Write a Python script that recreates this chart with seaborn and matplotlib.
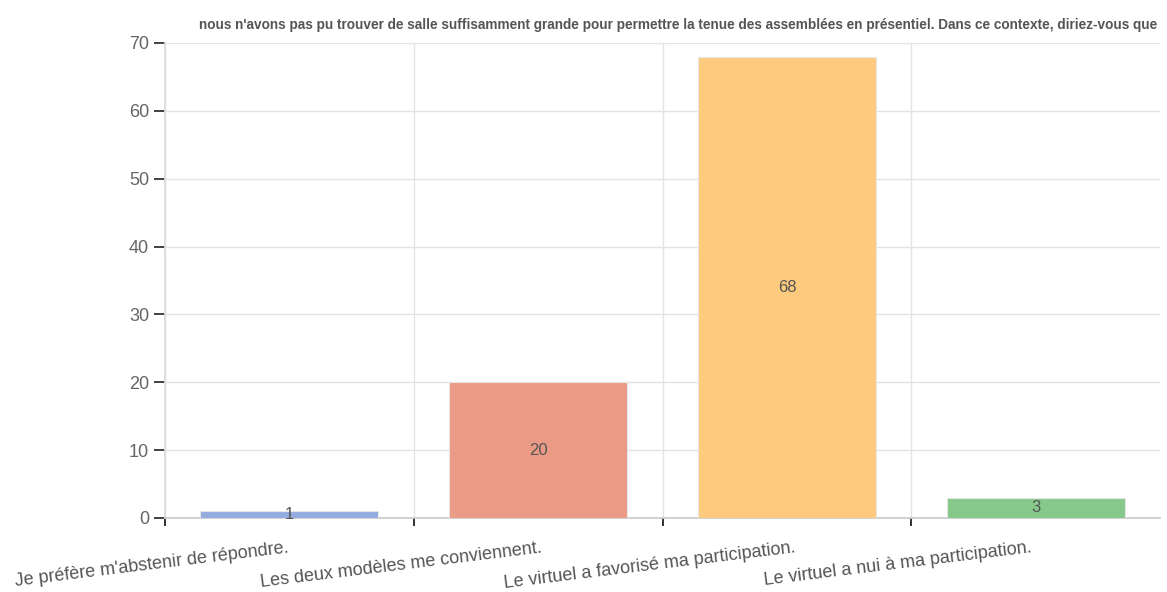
import matplotlib
matplotlib.use("Agg")
import matplotlib.pyplot as plt
import matplotlib.transforms as mtransforms
import seaborn as sns
import pandas as pd

categories = ["Je préfère m'abstenir de répondre.",
              "Les deux modèles me conviennent.",
              "Le virtuel a favorisé ma participation.",
              "Le virtuel a nui à ma participation."]
values = [1, 20, 68, 3]
colors = ["#94abe0", "#eb9a85", "#fdca7e", "#86c98a"]
title = ("nous n'avons pas pu trouver de salle suffisamment grande pour permettre la tenue "
         "des assemblées en présentiel. Dans ce contexte, diriez-vous que")
yticks = [0, 10, 20, 30, 40, 50, 60, 70]

sns.set_theme(style="white")
plt.rcParams['font.family'] = ['Liberation Sans', 'DejaVu Sans']

df = pd.DataFrame({"cat": categories, "val": values})

fig = plt.figure(figsize=(11.67, 5.92), dpi=100)
ax = fig.add_axes([0.1414, 0.125, 0.8526, 0.8024])

sns.barplot(data=df, x="cat", y="val", hue="cat", palette=colors, legend=False,
            width=0.715, ax=ax, saturation=1, edgecolor="#e6e6e6", linewidth=0.8, zorder=3)

for i, v in enumerate(values):
    ax.text(i, v / 2, str(v), ha="center", va="center", fontsize=12, color="#555555", zorder=4)

ax.set_xlim(-0.5, 3.5)
ax.set_ylim(0, 70)
ax.set_yticks(yticks)
ax.set_yticklabels([str(t) for t in yticks], color="#666666", fontsize=13)
ax.set_xticks([-0.5, 0.5, 1.5, 2.5])
ax.set_xticklabels(categories, rotation=7, ha="center", color="#555555", fontsize=13)
ax.tick_params(axis="y", length=8, width=1.3, color="#333333", pad=3.5, left=True)
ax.tick_params(axis="x", length=6, width=1.3, color="#222222", pad=9.5, bottom=True)
offset = mtransforms.ScaledTranslation(-0.13, 0, fig.dpi_scale_trans)
for lbl in ax.get_xticklabels():
    lbl.set_transform(lbl.get_transform() + offset)
ax.set_xlabel("")
ax.set_ylabel("")

ax.grid(True, color="#e3e3e3", linewidth=1, zorder=0)
ax.set_axisbelow(True)
for s in ["top", "right"]:
    ax.spines[s].set_visible(False)
ax.spines["left"].set_color("#dddddd")
ax.spines["bottom"].set_color("#cccccc")

fig.text(1157 / 1167, 1 - 25 / 592, title, ha="right", va="center", fontsize=9.8,
         color="#555555", fontweight="bold")

fig.savefig("out.png", dpi=100, facecolor="white")
